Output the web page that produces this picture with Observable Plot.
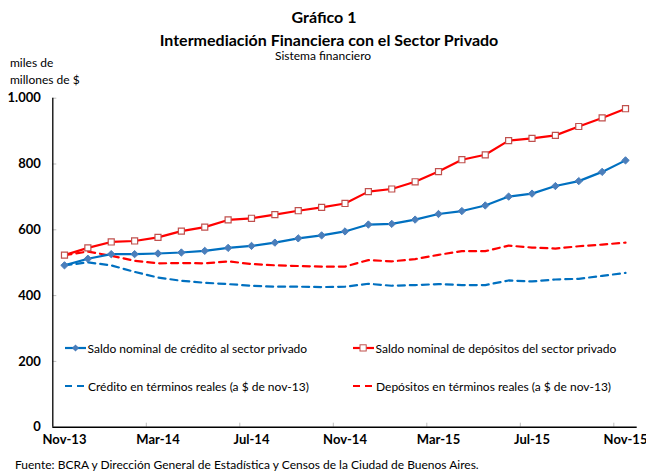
<!DOCTYPE html>
<html><head><meta charset="utf-8">
<script src="https://cdn.jsdelivr.net/npm/d3@7"></script>
<script src="https://cdn.jsdelivr.net/npm/@observablehq/plot@0.6"></script>
<style>
body{margin:0;background:#fff;font-family:Lato,"Open Sans",sans-serif;color:#000}
#wrap{position:relative;width:646px;height:471px;overflow:hidden;background:#fff}
.abs{position:absolute;white-space:nowrap}
#chart svg{overflow:visible}
</style></head><body>
<div id="wrap">
  <div class="abs" style="left:1px;width:646px;text-align:center;top:8.8px;font-weight:bold;font-size:16px;line-height:16px">Gráfico 1</div>
  <div class="abs" style="left:6px;width:646px;text-align:center;top:31.8px;font-weight:bold;font-size:16px;line-height:16px">Intermediación Financiera con el Sector Privado</div>
  <div class="abs" style="left:0;width:646px;text-align:center;top:49.6px;font-size:12px;line-height:12px">Sistema financiero</div>
  <div class="abs" style="left:10px;top:57px;font-size:12px;line-height:12px">miles de</div>
  <div class="abs" style="left:10px;top:74px;font-size:12px;line-height:12px">millones de $</div>
  <div id="chart" class="abs" style="left:0;top:86px"></div>
  <div id="legend"></div>
  <div class="abs" style="left:15px;top:457.7px;font-size:12px;line-height:14px">Fuente: BCRA y Dirección General de Estadística y Censos de la Ciudad de Buenos Aires.</div>
</div>
<script>
// Tick labels (every 4 months, Nov-13 .. Nov-15)
const tickLabels = ["Nov-13","Mar-14","Jul-14","Nov-14","Mar-15","Jul-15","Nov-15"];
const yTicks = [0, 200, 400, 600, 800, 1000];

// Monthly values, Nov-13 .. Nov-15 (miles de millones de $)
const creditoNominal  = [492,512,526,526,528,531,536,545,551,561,574,583,595,616,618,631,648,657,674,701,710,733,748,776,811];
const depositosNominal= [523,545,563,566,577,596,608,630,635,646,658,668,680,716,724,746,777,813,828,871,878,887,914,940,968];
const creditoReal     = [492,501,492,472,455,445,439,435,430,427,427,426,427,436,430,432,435,432,432,446,443,449,451,460,469];
const depositosReal   = [523,534,521,506,498,499,498,504,496,492,490,488,488,508,504,511,524,535,535,552,546,543,550,555,561];

const seriesNames = [
  "Saldo nominal de crédito al sector privado",
  "Saldo nominal de depósitos del sector privado",
  "Crédito en términos reales (a $ de nov-13)",
  "Depósitos en términos reales (a $ de nov-13)"
];

const BLUE = "#0070C0", RED = "#FF0000", BLUE_MK = "#4A7EBB", RED_MK = "#C0504D";
const tickIdx = tickLabels.map((_, k) => k * 4);
const boundaries = tickIdx.slice(1).map(i => i - 0.5);
const n = creditoNominal.length;

const H = 364, mT = 11.7, mB = 23.3, mL = 52.3, mR = 9.3;
const plotW = 646 - mL - mR, plotH = H - mT - mB;

const plot = Plot.plot({
  width: 646, height: H,
  marginLeft: mL, marginRight: mR, marginTop: mT, marginBottom: mB,
  x: {domain: [-0.5, n - 0.5]},
  y: {domain: [0, 1000]},
  style: {fontFamily: "Lato, 'Open Sans', sans-serif", background: "transparent", color: "#000"},
  marks: [
    Plot.tickY(yTicks.slice(1), {y: d => d, stroke: "#bfbfbf", insetRight: plotW - 4}),
    Plot.tickX(boundaries, {x: d => d, stroke: "#bfbfbf", insetTop: plotH - 4}),
    Plot.ruleX([-0.5], {stroke: "#000", strokeWidth: 1.3}),
    Plot.ruleY([0], {stroke: "#000", strokeWidth: 1.5}),
    Plot.axisY({ticks: yTicks, tickSize: 0, tickPadding: 12, label: null,
      tickFormat: d => d3.format(",")(d).replace(/,/g, "."), fontWeight: "bold", fontSize: 13}),
    Plot.axisX({ticks: tickIdx, tickSize: 0, tickPadding: 8, label: null,
      tickFormat: i => tickLabels[i / 4], fontWeight: "bold", fontSize: 13}),
    Plot.lineY(creditoReal, {stroke: BLUE, strokeWidth: 2.2, strokeDasharray: "7,5"}),
    Plot.lineY(depositosReal, {stroke: RED, strokeWidth: 2.2, strokeDasharray: "7,5"}),
    Plot.lineY(creditoNominal, {stroke: BLUE, strokeWidth: 2.2}),
    Plot.lineY(depositosNominal, {stroke: RED, strokeWidth: 2.2}),
    Plot.dot(creditoNominal, {x: (d, i) => i, y: d => d, symbol: d3.symbolDiamond2, r: 3.3, fill: BLUE_MK, stroke: BLUE_MK, strokeWidth: 1}),
    Plot.dot(depositosNominal, {x: (d, i) => i, y: d => d, symbol: d3.symbolSquare, r: 3.4, fill: "white", stroke: RED_MK, strokeWidth: 1.2})
  ]
});
document.getElementById("chart").appendChild(plot);

// Legend (inside plot area)
const legendItems = [
  {name: seriesNames[0], color: BLUE, dash: null, marker: "diamond", col: 0, row: 0},
  {name: seriesNames[1], color: RED, dash: null, marker: "square", col: 1, row: 0},
  {name: seriesNames[2], color: BLUE, dash: "7,5", marker: null, col: 0, row: 1},
  {name: seriesNames[3], color: RED, dash: "7,5", marker: null, col: 1, row: 1}
];
const colX = [64, 352], rowY = [348, 386];
const leg = document.getElementById("legend");
for (const it of legendItems) {
  const x0 = colX[it.col], yc = rowY[it.row];
  const sw = document.createElementNS("http://www.w3.org/2000/svg", "svg");
  sw.setAttribute("width", 24); sw.setAttribute("height", 14);
  sw.setAttribute("class", "abs");
  sw.style.left = x0 + "px"; sw.style.top = (yc - 7) + "px";
  let inner = `<line x1="1" y1="7" x2="${it.dash ? 20 : 22}" y2="7" stroke="${it.color}" stroke-width="2.2"${it.dash ? ` stroke-dasharray="${it.dash}"` : ""}/>`;
  if (it.marker === "diamond") inner += `<path d="M11.5,3.4L15.1,7L11.5,10.6L7.9,7Z" fill="${BLUE_MK}"/>`;
  if (it.marker === "square") inner += `<rect x="8" y="3.8" width="6.2" height="6.2" fill="white" stroke="${RED_MK}" stroke-width="1"/>`;
  sw.innerHTML = inner;
  leg.appendChild(sw);
  const t = document.createElement("div");
  t.className = "abs";
  t.style.cssText = `left:${x0 + (it.dash ? 24 : 23.5)}px;top:${yc - 6.5}px;font-size:12px;line-height:14px`;
  t.textContent = it.name;
  leg.appendChild(t);
}
</script>
</body></html>
